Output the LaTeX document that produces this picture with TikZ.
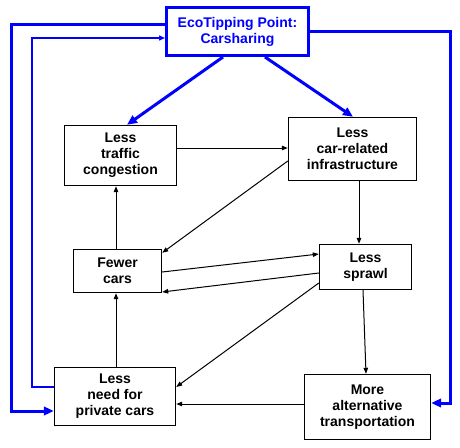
\documentclass[tikz,border=0pt]{standalone}
\usepackage{fontspec}
\setmainfont{Liberation Sans}
\usepackage{xcolor}
\usetikzlibrary{arrows.meta}
\definecolor{tipblue}{RGB}{0,0,255}
\tikzset{
  loopbox/.style={
    rectangle,
    draw=black,
    line width=1.4pt,
    fill=white,
    align=center,
    inner sep=2pt,
    font=\fontsize{14}{16}\selectfont\bfseries
  },
  tipbox/.style={
    rectangle,
    draw=tipblue,
    line width=3pt,
    fill=white,
    text=tipblue,
    align=center,
    inner sep=2pt,
    font=\fontsize{14}{16}\selectfont\bfseries
  },
  looparrow/.style={
    -{Triangle[length=6pt,width=4.5pt]},
    line width=1pt,
    draw=black
  },
  tiparrow/.style={
    -{Triangle[length=10pt,width=8.5pt]},
    line width=3pt,
    draw=tipblue
  },
  tipfeed/.style={
    -{Triangle[length=6pt,width=5pt]},
    line width=1.4pt,
    draw=tipblue
  }
}
\begin{document}
\begin{tikzpicture}[x=1pt,y=-1pt]
\useasboundingbox (0,0) rectangle (460,447);
\node[tipbox, minimum width=142pt, minimum height=48pt] (tipping) at (237.5,31.5) {EcoTipping Point:\\Carsharing};
\node[loopbox, minimum width=112pt, minimum height=60pt] (traffic) at (120.5,155.5) {Less\\traffic\\congestion};
\node[loopbox, minimum width=128pt, minimum height=63pt] (infra) at (352.5,149) {Less\\car-related\\infrastructure};
\node[loopbox, minimum width=88pt, minimum height=43pt] (fewer) at (117.5,271) {Fewer\\cars};
\node[loopbox, minimum width=92pt, minimum height=45pt] (sprawl) at (365.5,267) {Less\\sprawl};
\node[loopbox, minimum width=121pt, minimum height=58pt] (need) at (115,396.5) {Less\\need for\\private cars};
\node[loopbox, minimum width=126pt, minimum height=65pt] (alt) at (367.5,407) {More\\alternative\\transportation};

\draw[tiparrow] ([xshift=-14.5pt]tipping.south) -- ([xshift=6.5pt]traffic.north);
\draw[tiparrow] ([xshift=27.5pt]tipping.south) -- ([xshift=0.5pt]infra.north);
\draw[tiparrow] ([yshift=7.5pt]tipping.west) -- ++(-154,0) |- ([yshift=-14.5pt]need.west);
\draw[tipfeed] ([yshift=9.5pt]need.west) -- ++(-22,0) |- ([yshift=-6.5pt]tipping.west);
\draw[tiparrow] ([yshift=0.5pt]tipping.east) -- ++(140,0) |- ([yshift=4pt]alt.east);

\draw[looparrow] ([yshift=7.5pt]traffic.east) -- ([yshift=1pt]infra.west);
\draw[looparrow] ([yshift=-12pt]infra.west) -- ([yshift=-4pt]fewer.north east);
\draw[looparrow] ([xshift=6.5pt]infra.south) -- ([xshift=-6.5pt]sprawl.north);
\draw[looparrow] ([xshift=-1.5pt]fewer.north) -- ([xshift=-4.5pt]traffic.south);
\draw[looparrow] ([yshift=-1pt]fewer.east) -- ([yshift=13pt]sprawl.west);
\draw[looparrow] ([yshift=-6pt]sprawl.west) -- ([yshift=-21pt]fewer.east);
\draw[looparrow] ([yshift=-16pt]sprawl.west) -- ([yshift=9.5pt]need.east);
\draw[looparrow] ([xshift=-2.5pt]sprawl.south) -- ([xshift=-1.5pt]alt.north);
\draw[looparrow] ([yshift=3pt]alt.west) -- ([yshift=-7.5pt]need.east);
\draw[looparrow] ([xshift=1pt]need.north) -- ([xshift=-1.5pt]fewer.south);
\end{tikzpicture}
\end{document}
